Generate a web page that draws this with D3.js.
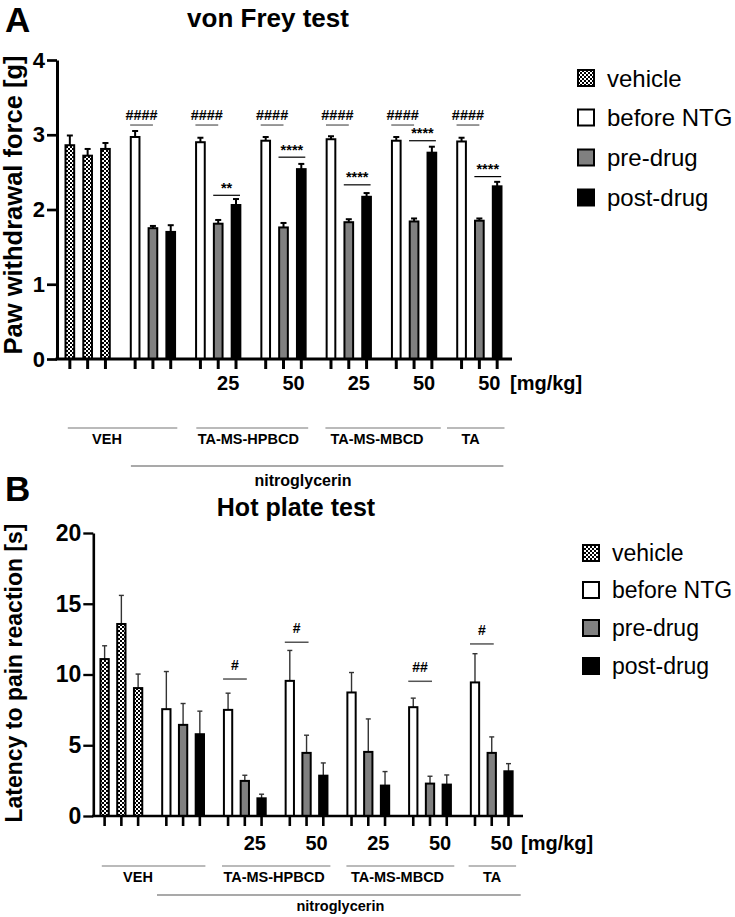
<!DOCTYPE html>
<html><head><meta charset="utf-8">
<script src="https://cdn.jsdelivr.net/npm/d3@7"></script>
<style>
body{margin:0;background:#fff}
svg{display:block}
text{font-family:"Liberation Sans",Arial,Helvetica,sans-serif}
</style>
</head><body>
<svg id="c" width="735" height="917"></svg>
<script>
// ---------- DATA ----------
const groups = ["VEH", "NTG+VEH", "HPBCD 25", "HPBCD 50", "MBCD 25", "MBCD 50", "TA 50"];
const slots = [0, 1, 2];
const seriesNames = ["vehicle", "before NTG", "pre-drug", "post-drug"];
const barSeries = [
  ["vehicle", "vehicle", "vehicle"],
  ["before NTG", "pre-drug", "post-drug"],
  ["before NTG", "pre-drug", "post-drug"],
  ["before NTG", "pre-drug", "post-drug"],
  ["before NTG", "pre-drug", "post-drug"],
  ["before NTG", "pre-drug", "post-drug"],
  ["before NTG", "pre-drug", "post-drug"]
];
const doseLabels = ["", "", "25", "50", "25", "50", "50"];
const doseUnit = "[mg/kg]";
const treatmentLabels = ["VEH", "TA-MS-HPBCD", "TA-MS-MBCD", "TA"];
const ntgLabel = "nitroglycerin";

const vonFreyMean = [2.86, 2.72, 2.81, 2.97, 1.75, 1.70, 2.90, 1.81, 2.06, 2.92, 1.76, 2.54, 2.94, 1.83, 2.17, 2.92, 1.84, 2.76, 2.91, 1.85, 2.31];
const vonFreySEM  = [0.13, 0.09, 0.08, 0.08, 0.03, 0.09, 0.06, 0.05, 0.08, 0.05, 0.06, 0.07, 0.04, 0.04, 0.05, 0.05, 0.04, 0.08, 0.05, 0.03, 0.06];
const vonFreyTicks = [0, 1, 2, 3, 4];
const vonFreyHash = [
  {group: 1, text: "####", y: 3.13}, {group: 2, text: "####", y: 3.13},
  {group: 3, text: "####", y: 3.13}, {group: 4, text: "####", y: 3.13},
  {group: 5, text: "####", y: 3.13}, {group: 6, text: "####", y: 3.13}
];
const vonFreyStars = [
  {group: 2, text: "**", y: 2.19}, {group: 3, text: "****", y: 2.70},
  {group: 4, text: "****", y: 2.33}, {group: 5, text: "****", y: 2.92},
  {group: 6, text: "****", y: 2.44}
];

const hotPlateMean = [11.09, 13.57, 9.04, 7.55, 6.44, 5.78, 7.50, 2.48, 1.25, 9.55, 4.46, 2.85, 8.73, 4.53, 2.15, 7.69, 2.29, 2.22, 9.44, 4.46, 3.16];
const hotPlateSEM  = [0.94, 2.02, 0.99, 2.66, 1.51, 1.63, 1.18, 0.40, 0.29, 2.15, 1.25, 0.90, 1.41, 2.33, 0.99, 0.64, 0.52, 0.68, 2.03, 1.13, 0.54];
const hotPlateTicks = [0, 5, 10, 15, 20];
const hotPlateHash = [
  {group: 2, text: "#", y: 9.68}, {group: 3, text: "#", y: 12.28},
  {group: 5, text: "##", y: 9.52}, {group: 6, text: "#", y: 12.16}
];

// ---------- STYLE / LAYOUT ----------
const FONT = '"Liberation Sans",Arial,Helvetica,sans-serif';
const fills = {"vehicle": "url(#checker)", "before NTG": "#ffffff", "pre-drug": "#808080", "post-drug": "#000000"};

const svg = d3.select("#c");
const defs = svg.append("defs");
const pat = defs.append("pattern").attr("id", "checker").attr("width", 4).attr("height", 4)
  .attr("patternUnits", "userSpaceOnUse");
pat.append("rect").attr("width", 4).attr("height", 4).attr("fill", "#fff");
pat.append("rect").attr("width", 2).attr("height", 2).attr("fill", "#000");
pat.append("rect").attr("x", 2).attr("y", 2).attr("width", 2).attr("height", 2).attr("fill", "#000");

const panels = [
  {
    letter: "A", letterPos: [5, 32], title: "von Frey test", titlePos: [268, 27], titleSize: 26,
    yLabel: "Paw withdrawal force [g]", yLabelPos: [22, 205], yLabelSize: 25.5,
    mean: vonFreyMean, sem: vonFreySEM, ticks: vonFreyTicks, yDomain: [0, 4], yRange: [359, 60],
    xRange: [55, 512], axisX: 57, axisEnd: 512, step: 17.8, pad: 0.4,
    axisW: 3, tickFont: 22, tickLen: 10, xTickW: 3, errColor: "#000", errW: 2, capW: 6,
    doseY: 390, doseSize: 20, doseDx: 10,
    groupLineY: 428, groupLines: [[67.8, 177.3], [196.3, 308.2], [325.4, 440.8], [447, 504.5]],
    groupLabelX: [107, 248.3, 377, 470.7], groupLabelY: 444, groupLabelSize: 14.5,
    ntgLine: [130.9, 503.4], ntgLineY: 466, ntgX: 303, ntgY: 486, ntgSize: 16,
    legendX: 577, legendY: [78, 117.5, 157.5, 197.5], legendSize: 24, legendTextX: 607, legendBox: 18,
    hash: vonFreyHash, hashSize: 14.5, hashGap: 5, hashSpan: [-5, 0], hashColor: "#777",
    stars: vonFreyStars, starSize: 14.5, starGap: 2.5, starSpan: [-5, 4]
  },
  {
    letter: "B", letterPos: [5, 501], title: "Hot plate test", titlePos: [296, 516], titleSize: 25,
    yLabel: "Latency to pain reaction [s]", yLabelPos: [22, 673], yLabelSize: 23,
    mean: hotPlateMean, sem: hotPlateSEM, ticks: hotPlateTicks, yDomain: [0, 20], yRange: [816, 533],
    xRange: [90.5, 522.6], axisX: 93.3, axisEnd: 523, step: 16.75, pad: 0.385,
    axisW: 2.6, tickFont: 23, tickLen: 10, xTickW: 2.6, errColor: "#333", errW: 1.4, capW: 5,
    doseY: 850, doseSize: 20, doseDx: 10,
    groupLineY: 866, groupLines: [[101.8, 205.4], [222, 330.4], [346.4, 454.3], [468.6, 516.1]],
    groupLabelX: [138, 274, 397.5, 492.1], groupLabelY: 882, groupLabelSize: 14.5,
    ntgLine: [157, 520.7], ntgLineY: 895, ntgX: 340.4, ntgY: 911, ntgSize: 14.5,
    legendX: 582, legendY: [553, 590, 628, 666], legendSize: 23, legendTextX: 612, legendBox: 18,
    hash: hotPlateHash, hashSize: 14, hashGap: 9, hashSpan: [-5, 2], hashColor: "#555",
    stars: [], starSize: 14, starGap: 3, starSpan: [-5, 4]
  }
];

function drawPanel(p) {
  const g = svg.append("g");
  const x0 = d3.scaleBand().domain(groups).range(p.xRange).paddingInner(0).paddingOuter(0);
  const x1 = d3.scaleBand().domain(slots).range([0, 3 * p.step]).paddingInner(p.pad).paddingOuter(p.pad / 2);
  const y = d3.scaleLinear().domain(p.yDomain).range(p.yRange);
  const cx = (gi, i) => x0(groups[gi]) + x0.bandwidth() / 2 - 1.5 * p.step + x1(i) + x1.bandwidth() / 2;
  const bw = x1.bandwidth();

  const bars = [];
  groups.forEach((gName, gi) => slots.forEach(i => {
    const k = gi * 3 + i;
    bars.push({gi, i, s: barSeries[gi][i], m: p.mean[k], e: p.sem[k]});
  }));

  // error bars (upper whiskers)
  const eb = g.append("g").attr("stroke", p.errColor).attr("stroke-width", p.errW).attr("fill", "none");
  bars.forEach(b => {
    const c = cx(b.gi, b.i);
    eb.append("line").attr("x1", c).attr("x2", c).attr("y1", y(b.m)).attr("y2", y(b.m + b.e));
    eb.append("line").attr("x1", c - p.capW / 2).attr("x2", c + p.capW / 2).attr("y1", y(b.m + b.e)).attr("y2", y(b.m + b.e));
  });

  // bars
  g.append("g").selectAll("rect").data(bars).join("rect")
    .attr("x", d => cx(d.gi, d.i) - bw / 2 + 1)
    .attr("width", bw - 2)
    .attr("y", d => y(d.m))
    .attr("height", d => y(0) - y(d.m))
    .attr("fill", d => fills[d.s])
    .attr("stroke", "#000").attr("stroke-width", 2);

  // y axis
  const yAxis = d3.axisLeft(y).tickValues(p.ticks).tickSize(p.tickLen).tickSizeOuter(0).tickPadding(2).tickFormat(d3.format("d"));
  const ya = g.append("g").attr("transform", `translate(${p.axisX},0)`).call(yAxis);
  ya.select(".domain").attr("stroke", "#000").attr("stroke-width", p.axisW);
  ya.selectAll(".tick line").attr("stroke", "#000").attr("stroke-width", p.axisW * 0.9);
  ya.selectAll(".tick text").attr("font-family", FONT).attr("font-size", p.tickFont).attr("font-weight", "bold").attr("fill", "#000");

  // x axis line + ticks
  g.append("line").attr("x1", p.axisX - p.axisW / 2).attr("x2", p.axisEnd).attr("y1", y(0)).attr("y2", y(0))
    .attr("stroke", "#000").attr("stroke-width", p.axisW);
  g.append("g").selectAll("line").data(bars).join("line")
    .attr("x1", d => cx(d.gi, d.i)).attr("x2", d => cx(d.gi, d.i))
    .attr("y1", y(0)).attr("y2", y(0) + p.tickLen)
    .attr("stroke", "#000").attr("stroke-width", p.xTickW);

  // dose labels
  g.append("g").selectAll("text").data(doseLabels.map((t, gi) => ({t, gi})).filter(d => d.t))
    .join("text")
    .attr("x", d => x0(groups[d.gi]) + x0.bandwidth() / 2 + p.doseDx)
    .attr("y", p.doseY).attr("text-anchor", "middle")
    .attr("font-size", p.doseSize).attr("font-weight", "bold").text(d => d.t);
  g.append("text").attr("x", p.axisEnd - 2).attr("y", p.doseY)
    .attr("font-size", p.doseSize).attr("font-weight", "bold").text(doseUnit);

  // treatment group lines + labels
  p.groupLines.forEach((ln, i) => {
    g.append("line").attr("x1", ln[0]).attr("x2", ln[1]).attr("y1", p.groupLineY).attr("y2", p.groupLineY)
      .attr("stroke", "#777").attr("stroke-width", 1.2);
    g.append("text").attr("x", p.groupLabelX[i]).attr("y", p.groupLabelY).attr("text-anchor", "middle")
      .attr("font-size", p.groupLabelSize).attr("font-weight", "bold").text(treatmentLabels[i]);
  });
  g.append("line").attr("x1", p.ntgLine[0]).attr("x2", p.ntgLine[1]).attr("y1", p.ntgLineY).attr("y2", p.ntgLineY)
    .attr("stroke", "#555").attr("stroke-width", 1.2);
  g.append("text").attr("x", p.ntgX).attr("y", p.ntgY).attr("text-anchor", "middle")
    .attr("font-size", p.ntgSize).attr("font-weight", "bold").text(ntgLabel);

  // significance marks
  p.hash.forEach(h => {
    const xa = cx(h.group, 0) + p.hashSpan[0], xb = cx(h.group, 1) + p.hashSpan[1];
    g.append("line").attr("x1", xa).attr("x2", xb).attr("y1", y(h.y)).attr("y2", y(h.y))
      .attr("stroke", p.hashColor).attr("stroke-width", 1.5);
    g.append("text").attr("x", (xa + xb) / 2).attr("y", y(h.y) - p.hashGap).attr("text-anchor", "middle")
      .attr("font-size", p.hashSize).attr("font-weight", "bold").text(h.text);
  });
  p.stars.forEach(h => {
    const xa = cx(h.group, 1) + p.starSpan[0], xb = cx(h.group, 2) + p.starSpan[1];
    g.append("line").attr("x1", xa).attr("x2", xb).attr("y1", y(h.y)).attr("y2", y(h.y))
      .attr("stroke", "#000").attr("stroke-width", 1.2);
    g.append("text").attr("x", (xa + xb) / 2).attr("y", y(h.y) - p.starGap).attr("text-anchor", "middle")
      .attr("font-size", p.starSize).attr("font-weight", "bold").text(h.text);
  });

  // titles
  g.append("text").attr("x", p.letterPos[0]).attr("y", p.letterPos[1])
    .attr("font-size", 35).attr("font-weight", "bold").text(p.letter);
  g.append("text").attr("x", p.titlePos[0]).attr("y", p.titlePos[1]).attr("text-anchor", "middle")
    .attr("font-size", p.titleSize).attr("font-weight", "bold").text(p.title);
  g.append("text").attr("transform", `translate(${p.yLabelPos[0]},${p.yLabelPos[1]}) rotate(-90)`)
    .attr("text-anchor", "middle").attr("font-size", p.yLabelSize).attr("font-weight", "bold").text(p.yLabel);

  // legend
  const lg = g.append("g");
  seriesNames.forEach((s, i) => {
    const cy = p.legendY[i];
    lg.append("rect").attr("x", p.legendX + 1).attr("y", cy - p.legendBox / 2 + 1)
      .attr("width", p.legendBox - 2).attr("height", p.legendBox - 2)
      .attr("fill", fills[s]).attr("stroke", "#000").attr("stroke-width", 2);
    lg.append("text").attr("x", p.legendTextX).attr("y", cy + p.legendSize * 0.36)
      .attr("font-size", p.legendSize).text(s);
  });
}

panels.forEach(drawPanel);
</script>
</body></html>
